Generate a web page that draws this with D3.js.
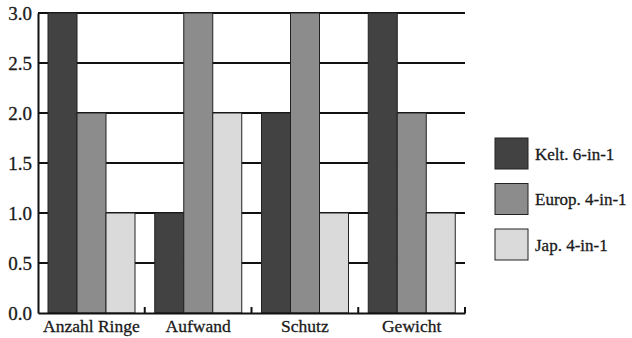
<!DOCTYPE html>
<html lang="de">
<head>
<meta charset="UTF-8">
<title>Kettenhemd Vergleich</title>
<style>
  body { margin: 0; background: #fff; }
  svg text { fill: #1a1a1a; stroke: #1a1a1a; stroke-width: 0.3px; }
</style>
</head>
<body>
<script src="https://d3js.org/d3.v7.min.js"></script>
<div id="chart"></div>
<script>
    const categories = ["Anzahl Ringe", "Aufwand", "Schutz", "Gewicht"]
    const seriesNames = ["Kelt. 6-in-1", "Europ. 4-in-1", "Jap. 4-in-1"]
    const kelt = [3, 1, 2, 3]
    const europ = [2, 3, 3, 2]
    const jap = [1, 2, 1, 1]
    const yTicks = [0, 0.5, 1, 1.5, 2, 2.5, 3]
    const colors = ["#424242", "#8c8c8c", "#dadada"]

    const values = [kelt, europ, jap]
    const FONT = "'Liberation Serif', 'Times New Roman', serif"

    const svg = d3.select("#chart").append("svg")
        .attr("width", 632)
        .attr("height", 338)

    const MARGIN = { LEFT: 38, TOP: 13 }
    const WIDTH = 427
    const HEIGHT = 300

    const g = svg.append("g").attr("transform", `translate(${MARGIN.LEFT}, ${MARGIN.TOP})`)

    const x0 = d3.scaleBand().domain(categories).range([0, WIDTH])
    const x1 = d3.scaleBand().domain(seriesNames).range([10, 97])
    const y = d3.scaleLinear().domain([0, 3]).range([HEIGHT, 0])

    // grid lines behind bars
    g.selectAll(".grid").data(yTicks.filter(d => d > 0)).enter().append("line")
        .attr("x1", 0).attr("x2", WIDTH)
        .attr("y1", d => y(d)).attr("y2", d => y(d))
        .attr("stroke", "#111").attr("stroke-width", 2)

    // bars
    categories.forEach((cat, ci) => {
        seriesNames.forEach((s, si) => {
            const v = values[si][ci]
            g.append("rect")
                .attr("x", x0(cat) + x1(s))
                .attr("y", y(v))
                .attr("width", x1.bandwidth())
                .attr("height", y(0) - y(v))
                .attr("fill", colors[si])
                .attr("stroke", "#222")
                .attr("stroke-width", 1)
        })
    })

    // y axis
    const yAxis = d3.axisLeft(y).tickValues(yTicks).tickFormat(d3.format(".1f")).tickSize(0).tickPadding(6)
    const ya = g.append("g").call(yAxis)
        .attr("font-family", FONT).attr("font-size", 19)
    ya.select(".domain").attr("stroke", "#111").attr("stroke-width", 2)
    ya.selectAll("text").attr("fill", "#1a1a1a")

    // x axis with small ticks at category boundaries
    const xAxis = d3.axisBottom(x0).tickSize(0).tickPadding(7)
    const xa = g.append("g").attr("transform", `translate(0, ${HEIGHT})`).call(xAxis)
        .attr("font-family", FONT).attr("font-size", 17.5)
    xa.select(".domain").attr("stroke", "#111").attr("stroke-width", 2)
    xa.selectAll("text").attr("fill", "#1a1a1a")

    const bounds = categories.slice(1).map(c => x0(c)).concat([WIDTH])
    g.selectAll(".btick").data(bounds).enter().append("line")
        .attr("x1", d => d).attr("x2", d => d)
        .attr("y1", HEIGHT).attr("y2", HEIGHT - 6)
        .attr("stroke", "#111").attr("stroke-width", 2)

    // legend
    const legend = svg.append("g").attr("transform", "translate(495, 138)")
        .attr("font-family", FONT).attr("font-size", 17)
    seriesNames.forEach((s, i) => {
        const row = legend.append("g").attr("transform", `translate(0, ${i * 45.5})`)
        row.append("rect").attr("width", 33).attr("height", 31)
            .attr("fill", colors[i]).attr("stroke", "#222").attr("stroke-width", 1)
        row.append("text").attr("x", 40).attr("y", 16).attr("dy", "0.35em").text(s)
    })
</script>
</body>
</html>
